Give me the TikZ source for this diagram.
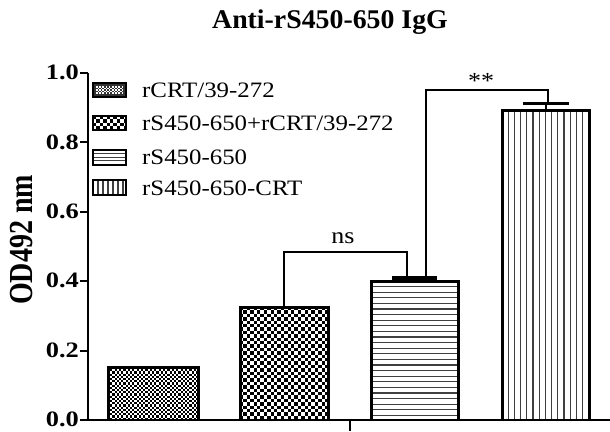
\documentclass[tikz,border=0pt]{standalone}
\usepackage{fontspec}
\setmainfont{Liberation Serif}
\newfontfamily\legfont{Liberation Serif}[FakeStretch=1.13]
\newfontfamily\ticfont{Liberation Serif}[FakeStretch=1.2]
\newfontfamily\ttlfont{Liberation Serif}[FakeStretch=1.03]
\newcommand{\chkfill}[5]{%
  \begin{scope}
    \clip (#1,#2) rectangle (#3,#4);
    \pgfmathtruncatemacro\cnx{(#3-#1)/#5}
    \pgfmathtruncatemacro\cny{(#4-#2)/#5}
    \foreach \ci in {0,...,\cnx}{\foreach \cj in {0,...,\cny}{%
      \pgfmathtruncatemacro\cpp{mod(\ci+\cj,2)}%
      \ifnum\cpp=0 \fill (#1+\ci*#5,#2+\cj*#5) rectangle ++(#5,#5);\fi
    }}
  \end{scope}}
\newcommand{\hlines}[5]{%
  \begin{scope}
    \clip (#1,#2) rectangle (#3,#4);
    \pgfmathtruncatemacro\cn{(#4-#2)/#5}
    \foreach \ci in {1,...,\cn}{\draw[patline] (#1,#2+\ci*#5) -- (#3,#2+\ci*#5);}
  \end{scope}}
\newcommand{\vlines}[5]{%
  \begin{scope}
    \clip (#1,#2) rectangle (#3,#4);
    \pgfmathtruncatemacro\cn{(#3-#1)/#5}
    \foreach \ci in {1,...,\cn}{\draw[patline] (#1+\ci*#5,#2) -- (#1+\ci*#5,#4);}
  \end{scope}}
\begin{document}
\begin{tikzpicture}[x=1pt,y=-1pt,
  barbox/.style={line width=3pt},
  axisline/.style={line width=2.6pt},
  tickline/.style={line width=2pt},
  bracket/.style={line width=1.6pt},
  errcap/.style={line width=3.5pt},
  patline/.style={line width=1.1pt, black!75},
  ticklab/.style={anchor=east, inner sep=0pt, font=\ticfont\bfseries\fontsize{22}{22}\selectfont},
  legtext/.style={anchor=west, inner sep=0pt, font=\legfont\fontsize{22}{22}\selectfont},
  sigtext/.style={inner sep=0pt, font=\legfont\fontsize{23}{23}\selectfont}]
\useasboundingbox (0,0) rectangle (610,431);
\fill[white] (0,0) rectangle (610,431);
% title
\node[inner sep=0pt, font=\ttlfont\bfseries\fontsize{27}{27}\selectfont] (title) at (330,22) {Anti-rS450-650 IgG};
% y label
\node[inner sep=0pt, rotate=90, font=\bfseries\fontsize{28}{28}\selectfont] (ylab) at (22,240) {\scalebox{1}[1.2]{OD492 nm}};
% bars
\chkfill{108}{367}{198}{420}{2.2}
\draw[barbox] (108,420) -- (108,367) -- (198,367) -- (198,420);
\chkfill{240}{307}{328}{420}{3.4}
\draw[barbox] (240,420) -- (240,307) -- (328,307) -- (328,420);
\hlines{371}{281}{458}{420}{5.6}
\draw[barbox] (371,420) -- (371,281) -- (458,281) -- (458,420);
\vlines{502}{110}{589}{420}{6.2}
\draw[barbox] (502,420) -- (502,110) -- (589,110) -- (589,420);
% error bars
\draw[errcap] (392,278) -- (437,278);
\draw[line width=2pt] (545.5,110) -- (545.5,103.5);
\draw[errcap] (523,103.5) -- (569,103.5);
% axes
\draw[axisline] (88,73) -- (88,421.3);
\draw[axisline] (86.7,420) -- (610,420);
\foreach \v/\l in {0/0.0,0.2/0.2,0.4/0.4,0.6/0.6,0.8/0.8,1.0/1.0}{
  \draw[tickline] (80,420-\v*347) -- (88,420-\v*347);
  \node[ticklab] at (79,419.5-\v*347) {\l};
}
\draw[tickline] (350,420) -- (350,431);
% brackets
\draw[bracket] (284,307) -- (284,252) -- (407,252) -- (407,276);
\node[sigtext] (ns) at (343,238) {ns};
\draw[bracket] (426,277) -- (426,90) -- (548,90) -- (548,102);
\node[sigtext] (ss) at (481,81) {**};
% legend
\fill[black!80] (93,83) rectangle (126,97);
\begin{scope}[white]
\chkfill{96}{86}{123}{94}{1.6}
\end{scope}
\draw[line width=2pt] (93,83) rectangle (126,97);
\node[legtext] (l1) at (142,90) {rCRT/39-272};
\chkfill{93}{116}{126}{130}{3.4}
\draw[line width=2pt] (93,116) rectangle (126,130);
\node[legtext] (l2) at (142,123) {rS450-650+rCRT/39-272};
\hlines{93}{150}{126}{165}{3.6}
\draw[line width=2pt] (93,150) rectangle (126,165);
\node[legtext] (l3) at (142,157) {rS450-650};
\vlines{93}{180}{126}{195}{5}
\draw[line width=2pt] (93,180) rectangle (126,195);
\node[legtext] (l4) at (142,188) {rS450-650-CRT};
\end{tikzpicture}
\end{document}
